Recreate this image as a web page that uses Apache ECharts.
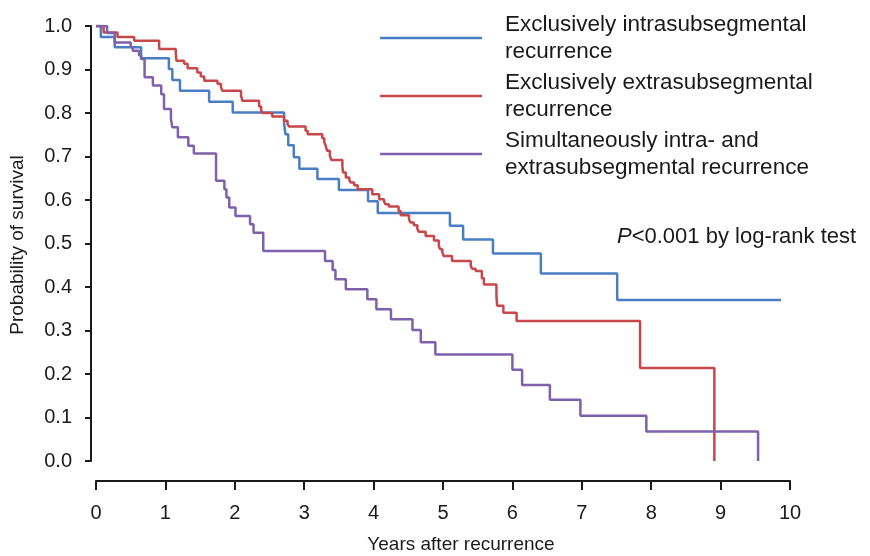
<!DOCTYPE html>
<html>
<head>
<meta charset="utf-8">
<script src="https://cdn.jsdelivr.net/npm/echarts@6/dist/echarts.min.js"></script>
<style>
  html, body { margin: 0; padding: 0; background: #ffffff; }
  #chart { width: 870px; height: 556px; }
</style>
</head>
<body>
<div id="chart"></div>
<script>
// Kaplan-Meier step data (years after recurrence, survival probability)
const intraYears = [0, 0.07, 0.27, 0.65, 1.05, 1.10, 1.21, 1.63, 1.97, 2.71, 2.73, 2.77, 2.85, 2.93, 3.19, 3.50, 3.92, 4.06, 5.10, 5.29, 5.72, 6.41, 7.51, 9.87];
const intraSurv  = [1.0, 0.975, 0.951, 0.926, 0.901, 0.876, 0.851, 0.826, 0.801, 0.776, 0.751, 0.726, 0.698, 0.672, 0.648, 0.623, 0.597, 0.570, 0.541, 0.509, 0.477, 0.431, 0.370, 0.370];

const extraYears = [0, 0.11, 0.31, 0.55, 0.91, 1.15, 1.16, 1.27, 1.32, 1.46, 1.51, 1.56, 1.75, 1.80, 1.82, 2.09, 2.11, 2.35, 2.38, 2.40, 2.54, 2.71, 2.76, 2.78, 3.02, 3.05, 3.26, 3.29, 3.31, 3.33, 3.37, 3.39, 3.55, 3.56, 3.60, 3.65, 3.67, 3.72, 3.77, 3.98, 4.08, 4.15, 4.17, 4.22, 4.36, 4.39, 4.51, 4.53, 4.58, 4.63, 4.65, 4.75, 4.87, 4.94, 4.96, 4.99, 5.01, 5.13, 5.40, 5.42, 5.47, 5.56, 5.59, 5.77, 5.78, 5.87, 6.06, 7.84, 8.91];
const extraSurv  = [1.0, 0.985, 0.975, 0.966, 0.947, 0.936, 0.920, 0.913, 0.903, 0.893, 0.884, 0.874, 0.867, 0.860, 0.851, 0.840, 0.828, 0.815, 0.806, 0.800, 0.792, 0.782, 0.775, 0.769, 0.759, 0.751, 0.742, 0.732, 0.725, 0.713, 0.702, 0.692, 0.678, 0.663, 0.652, 0.646, 0.640, 0.634, 0.625, 0.613, 0.602, 0.597, 0.590, 0.585, 0.575, 0.565, 0.556, 0.548, 0.542, 0.534, 0.527, 0.517, 0.507, 0.494, 0.487, 0.480, 0.471, 0.460, 0.448, 0.442, 0.437, 0.420, 0.406, 0.379, 0.357, 0.341, 0.322, 0.214, 0.0];

const simulYears = [0, 0.16, 0.27, 0.50, 0.53, 0.62, 0.65, 0.70, 0.82, 0.94, 0.98, 1.08, 1.10, 1.18, 1.33, 1.41, 1.73, 1.85, 1.88, 1.92, 2.01, 2.22, 2.27, 2.41, 3.30, 3.41, 3.45, 3.60, 3.91, 4.04, 4.25, 4.56, 4.68, 4.89, 6.00, 6.14, 6.54, 6.98, 7.93, 9.54];
const simulSurv  = [1.0, 0.984, 0.962, 0.951, 0.943, 0.933, 0.924, 0.882, 0.863, 0.843, 0.809, 0.786, 0.767, 0.744, 0.725, 0.707, 0.644, 0.625, 0.606, 0.583, 0.563, 0.544, 0.525, 0.483, 0.460, 0.439, 0.418, 0.395, 0.372, 0.349, 0.326, 0.301, 0.273, 0.245, 0.210, 0.175, 0.141, 0.104, 0.068, 0.0];

const seriesNames = [
  'Exclusively intrasubsegmental\nrecurrence',
  'Exclusively extrasubsegmental\nrecurrence',
  'Simultaneously intra- and\nextrasubsegmental recurrence'
];
const xTicks = [0, 1, 2, 3, 4, 5, 6, 7, 8, 9, 10];
const yTicks = [0.0, 0.1, 0.2, 0.3, 0.4, 0.5, 0.6, 0.7, 0.8, 0.9, 1.0];

const colors = ['#4a7ec4', '#c8474b', '#7f60ab'];
const FONT = "'Liberation Sans', Arial, Helvetica, sans-serif";

function zip(xs, ys) { return xs.map((x, i) => [x, ys[i]]); }

const chart = echarts.init(document.getElementById('chart'), null, { renderer: 'canvas' });

const curves = [zip(intraYears, intraSurv), zip(extraYears, extraSurv), zip(simulYears, simulSurv)];

chart.setOption({
  animation: false,
  backgroundColor: '#ffffff',
  grid: { left: 96, right: 80, top: 26, bottom: 95, containLabel: false },
  xAxis: {
    type: 'value', min: xTicks[0], max: xTicks[xTicks.length - 1], interval: 1,
    offset: 20,
    axisLine: { show: true, onZero: false, lineStyle: { color: '#1a1a1a', width: 2 } },
    axisTick: { show: true, length: 9, lineStyle: { color: '#1a1a1a', width: 2 } },
    axisLabel: { color: '#1a1a1a', fontSize: 20, fontFamily: FONT, margin: 22 },
    splitLine: { show: false }
  },
  yAxis: {
    type: 'value', min: yTicks[0], max: yTicks[yTicks.length - 1], interval: 0.1,
    offset: 5,
    axisLine: { show: true, onZero: false, lineStyle: { color: '#1a1a1a', width: 2 } },
    axisTick: { show: true, length: 6, lineStyle: { color: '#1a1a1a', width: 2 } },
    axisLabel: { color: '#1a1a1a', fontSize: 20, fontFamily: FONT, margin: 19,
      formatter: v => v.toFixed(1) },
    splitLine: { show: false }
  },
  legend: {
    orient: 'vertical', left: 375, top: 6, itemWidth: 102, itemHeight: 2.5, itemGap: 4,
    icon: 'rect',
    textStyle: { color: '#1a1a1a', fontSize: 22.5, fontFamily: FONT, lineHeight: 27, padding: [0, 0, 0, 18] },
    data: seriesNames
  },
  series: curves.map((d, i) => ({
    name: seriesNames[i], type: 'line', step: 'end', data: d,
    symbol: 'none', showSymbol: false,
    lineStyle: { color: colors[i], width: 2.5 },
    itemStyle: { color: colors[i] },
    z: 3 + i
  })),
  graphic: [
    {
      type: 'text', left: 617, top: 226,
      style: {
        text: '{i|P}<0.001 by log-rank test',
        fill: '#1a1a1a', fontSize: 22, fontFamily: FONT,
        rich: { i: { fontStyle: 'italic', fontSize: 22, fontFamily: FONT, fill: '#1a1a1a' } }
      }
    },
    {
      type: 'text', x: 461, y: 545,
      style: { text: 'Years after recurrence', fill: '#1a1a1a', fontSize: 19, fontFamily: FONT,
        textAlign: 'center', textVerticalAlign: 'middle' }
    },
    {
      type: 'text', x: 18, y: 245, rotation: Math.PI / 2,
      style: { text: 'Probability of survival', fill: '#1a1a1a', fontSize: 19, fontFamily: FONT,
        textAlign: 'center', textVerticalAlign: 'middle' }
    }
  ]
});
</script>
</body>
</html>
